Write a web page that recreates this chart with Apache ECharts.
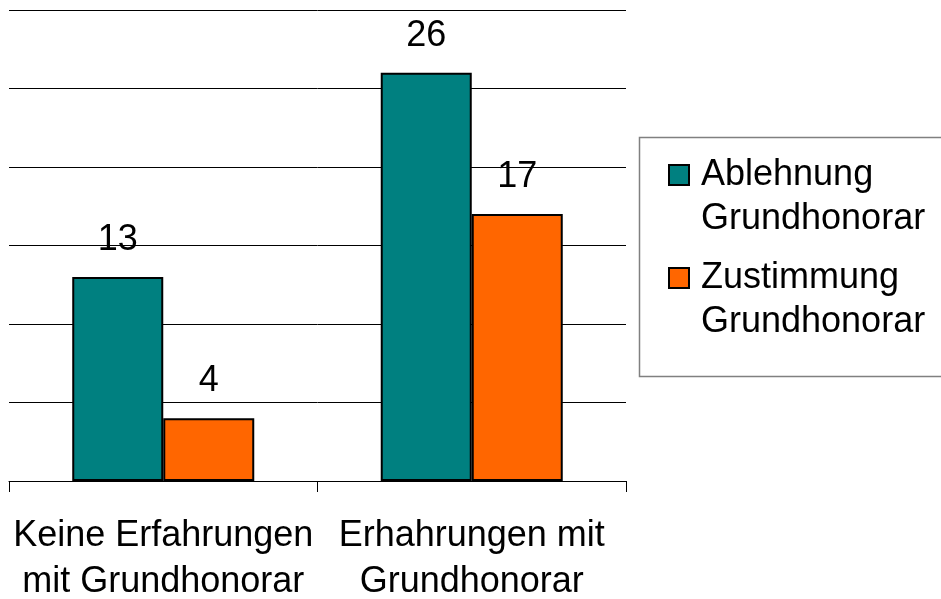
<!DOCTYPE html>
<html>
<head>
<meta charset="utf-8">
<script src="https://cdn.jsdelivr.net/npm/echarts@6/dist/echarts.min.js"></script>
<style>
  html, body { margin: 0; padding: 0; background: #fff; }
  #chart { width: 941px; height: 599px; }
</style>
</head>
<body>
<div id="chart"></div>
<script>
const categories = ['Keine Erfahrungen\nmit Grundhonorar', 'Erhahrungen mit\nGrundhonorar'];
const ablehnung = [13, 26];
const zustimmung = [4, 17];
const seriesNames = ['Ablehnung\nGrundhonorar', 'Zustimmung\nGrundhonorar'];

const chart = echarts.init(document.getElementById('chart'));

const labelStyle = {
  show: true,
  position: 'top',
  distance: 19,
  color: '#000',
  fontFamily: 'Liberation Sans, Arial, sans-serif',
  fontSize: 36,
};

chart.setOption({
  animation: false,
  grid: { left: 9, right: 315, top: 10, bottom: 118, outerBoundsMode: 'none' },
  xAxis: {
    type: 'category',
    data: categories,
    axisLine: { lineStyle: { color: '#000', width: 1 } },
    axisTick: { show: true, length: 11, lineStyle: { color: '#000' } },
    axisLabel: {
      color: '#000',
      fontFamily: 'Liberation Sans, Arial, sans-serif',
      fontSize: 36,
      lineHeight: 46,
      margin: 32,
      interval: 0,
    },
  },
  yAxis: {
    type: 'value',
    min: 0,
    max: 30,
    interval: 5,
    axisLine: { show: false },
    axisTick: { show: false },
    axisLabel: { show: false },
    splitLine: { lineStyle: { color: '#000', width: 1 } },
  },
  legend: {
    orient: 'vertical',
    left: 668,
    top: 109,
    padding: 0,
    itemWidth: 20,
    itemHeight: 20,
    itemGap: -29,
    icon: 'rect',
    // leading blank line keeps the first text line level with the icon
    formatter: (name) => ' \n' + name,
    textStyle: {
      color: '#000',
      fontFamily: 'Liberation Sans, Arial, sans-serif',
      fontSize: 36,
      lineHeight: 44,
      padding: [0, 0, 0, 7],
    },
  },
  graphic: [
    {
      type: 'rect',
      shape: { x: 639.5, y: 137.5, width: 330, height: 239 },
      style: { fill: 'none', stroke: '#808080', lineWidth: 1.5 },
      z: -1,
    },
  ],
  series: [
    {
      name: seriesNames[0],
      type: 'bar',
      data: ablehnung,
      barGap: 0,
      barCategoryGap: '41%',
      itemStyle: { color: '#008080', borderColor: '#000', borderWidth: 2 },
      label: labelStyle,
    },
    {
      name: seriesNames[1],
      type: 'bar',
      data: zustimmung,
      itemStyle: { color: '#FF6600', borderColor: '#000', borderWidth: 2 },
      label: labelStyle,
    },
  ],
});
</script>
</body>
</html>
